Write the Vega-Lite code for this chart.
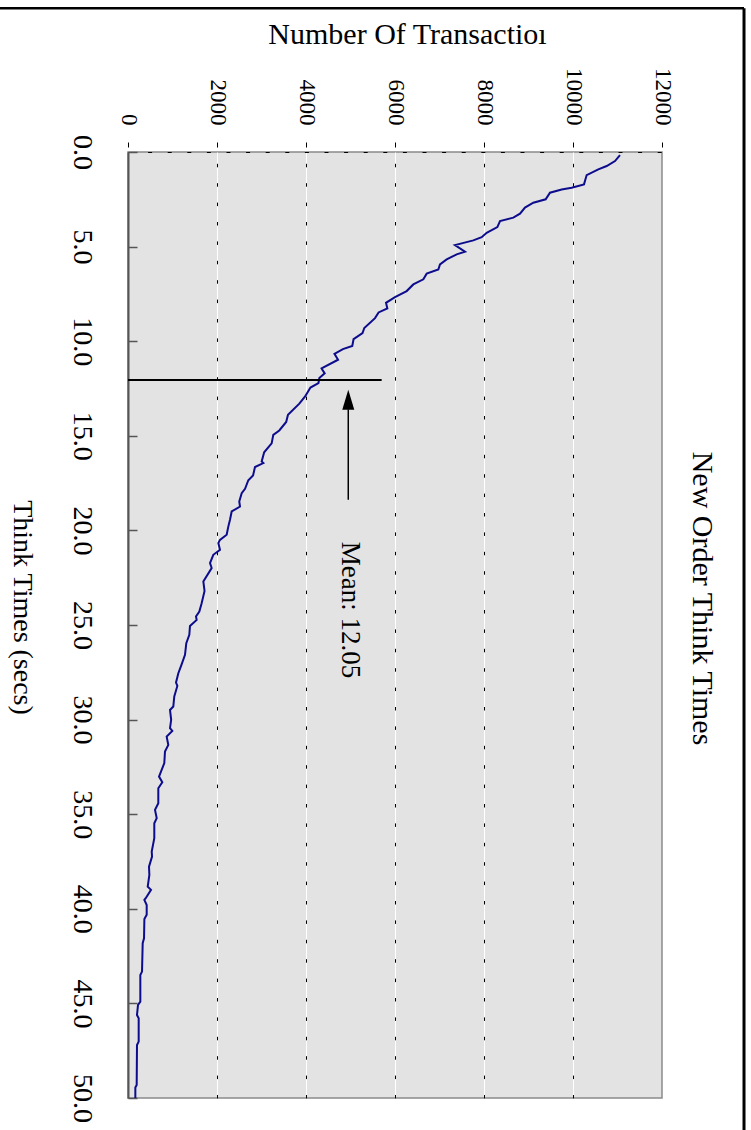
{
  "$schema": "https://vega.github.io/schema/vega-lite/v6.json",
  "width": 534,
  "height": 946,
  "autosize": {"type": "none"},
  "padding": {"left": 128, "top": 152, "right": 89, "bottom": 32},
  "background": "white",
  "config": {
    "font": "Liberation Serif",
    "view": {"fill": "#e3e3e3", "stroke": "#8a8a8a", "strokeWidth": 1.5}
  },
  "datasets": {
    "curve": [
      {"time": 0.16, "count": 11056}, {"time": 0.48, "count": 10944}, {"time": 0.74, "count": 10757},
      {"time": 0.92, "count": 10569}, {"time": 1.22, "count": 10307}, {"time": 1.71, "count": 10247},
      {"time": 1.89, "count": 9970}, {"time": 1.98, "count": 9745}, {"time": 2.15, "count": 9483},
      {"time": 2.5, "count": 9386}, {"time": 2.68, "count": 9108}, {"time": 2.94, "count": 8921},
      {"time": 3.26, "count": 8809}, {"time": 3.47, "count": 8659}, {"time": 3.65, "count": 8360},
      {"time": 3.97, "count": 8300}, {"time": 4.27, "count": 8060}, {"time": 4.5, "count": 7948},
      {"time": 4.67, "count": 7760}, {"time": 4.92, "count": 7348}, {"time": 5.27, "count": 7573},
      {"time": 5.41, "count": 7386}, {"time": 5.68, "count": 7161}, {"time": 5.94, "count": 7011},
      {"time": 6.21, "count": 6974}, {"time": 6.43, "count": 6712}, {"time": 6.73, "count": 6637},
      {"time": 7.0, "count": 6412}, {"time": 7.35, "count": 6262}, {"time": 7.67, "count": 6000},
      {"time": 7.97, "count": 5798}, {"time": 8.27, "count": 5828}, {"time": 8.48, "count": 5631},
      {"time": 8.78, "count": 5551}, {"time": 9.3, "count": 5310}, {"time": 9.57, "count": 5270},
      {"time": 9.89, "count": 5069}, {"time": 10.25, "count": 5040}, {"time": 10.42, "count": 4829},
      {"time": 10.67, "count": 4640}, {"time": 10.98, "count": 4720}, {"time": 11.44, "count": 4350},
      {"time": 11.7, "count": 4420}, {"time": 11.95, "count": 4300}, {"time": 12.21, "count": 4280},
      {"time": 12.45, "count": 4100}, {"time": 12.92, "count": 3980}, {"time": 13.3, "count": 3850},
      {"time": 13.89, "count": 3595}, {"time": 14.27, "count": 3555}, {"time": 14.72, "count": 3400},
      {"time": 14.95, "count": 3265}, {"time": 15.4, "count": 3228}, {"time": 15.87, "count": 3060},
      {"time": 16.36, "count": 3004}, {"time": 16.44, "count": 3041}, {"time": 16.65, "count": 2854},
      {"time": 17.1, "count": 2810}, {"time": 17.35, "count": 2704}, {"time": 17.8, "count": 2630},
      {"time": 18.03, "count": 2555}, {"time": 18.47, "count": 2500}, {"time": 18.74, "count": 2517},
      {"time": 19.0, "count": 2330}, {"time": 19.44, "count": 2292}, {"time": 19.8, "count": 2254},
      {"time": 20.23, "count": 2217}, {"time": 20.5, "count": 2067}, {"time": 20.67, "count": 2030},
      {"time": 21.03, "count": 2067}, {"time": 21.29, "count": 1917}, {"time": 21.73, "count": 1843},
      {"time": 21.99, "count": 1880}, {"time": 22.7, "count": 1693}, {"time": 23.2, "count": 1720},
      {"time": 23.85, "count": 1655}, {"time": 24.29, "count": 1603}, {"time": 24.55, "count": 1528},
      {"time": 24.73, "count": 1543}, {"time": 25.05, "count": 1393}, {"time": 25.52, "count": 1378},
      {"time": 25.96, "count": 1310}, {"time": 26.58, "count": 1281}, {"time": 27.15, "count": 1195},
      {"time": 27.55, "count": 1131}, {"time": 28.04, "count": 1079}, {"time": 28.22, "count": 1109},
      {"time": 28.78, "count": 1040}, {"time": 29.31, "count": 1018}, {"time": 29.49, "count": 944},
      {"time": 30.01, "count": 970}, {"time": 30.45, "count": 944}, {"time": 30.6, "count": 996},
      {"time": 30.9, "count": 869}, {"time": 31.34, "count": 906}, {"time": 31.69, "count": 831},
      {"time": 32.3, "count": 816}, {"time": 33.01, "count": 697}, {"time": 33.31, "count": 771},
      {"time": 33.63, "count": 681}, {"time": 34.42, "count": 681}, {"time": 34.77, "count": 607},
      {"time": 35.21, "count": 645}, {"time": 35.48, "count": 591}, {"time": 36.27, "count": 591},
      {"time": 36.98, "count": 533}, {"time": 37.24, "count": 540}, {"time": 37.77, "count": 472},
      {"time": 38.21, "count": 480}, {"time": 38.83, "count": 443}, {"time": 39.0, "count": 517},
      {"time": 39.44, "count": 398}, {"time": 39.53, "count": 368}, {"time": 39.8, "count": 420},
      {"time": 40.32, "count": 420}, {"time": 40.54, "count": 368}, {"time": 41.56, "count": 360},
      {"time": 41.82, "count": 330}, {"time": 43.32, "count": 315}, {"time": 43.5, "count": 277},
      {"time": 44.91, "count": 277}, {"time": 45.08, "count": 225}, {"time": 45.61, "count": 202},
      {"time": 45.79, "count": 240}, {"time": 47.02, "count": 240}, {"time": 47.2, "count": 202},
      {"time": 49.31, "count": 195}, {"time": 49.45, "count": 165}, {"time": 50.0, "count": 165}
    ]
  },
  "layer": [
    {
      "data": {"name": "curve"},
      "mark": {"type": "line", "color": "#0c0c8c", "strokeWidth": 2},
      "encoding": {
        "x": {
          "field": "count",
          "type": "quantitative",
          "scale": {"domain": [0, 12000], "nice": false, "zero": false},
          "axis": {
            "orient": "top",
            "values": [0, 2000, 4000, 6000, 8000, 10000, 12000],
            "format": "d",
            "labelAngle": 90,
            "labelAlign": "right",
            "labelBaseline": "middle",
            "labelPadding": 17,
            "labelFlush": false,
            "labelOverlap": false,
            "labelFont": "Liberation Serif",
            "labelFontSize": 23,
            "labelColor": "black",
            "tickSize": 10,
            "tickDash": [5, 5],
            "tickDashOffset": 5,
            "tickColor": "black",
            "tickWidth": 1,
            "domain": true,
            "domainColor": "black",
            "domainWidth": 1,
            "domainDash": [4, 15.6],
            "grid": true,
            "gridColor": {"condition": {"test": "datum.value === 0 || datum.value === 12000", "value": "transparent"}, "value": "white"},
            "gridWidth": 1,
            "gridOpacity": 1,
            "title": "Number Of Transactioı",
            "titleFont": "Liberation Serif",
            "titleFontSize": 30,
            "titleFontWeight": "normal",
            "titleColor": "black",
            "titleAlign": "center",
            "titleBaseline": "alphabetic",
            "titleAngle": 0,
            "titleX": 279,
            "titleY": -109
          }
        },
        "y": {
          "field": "time",
          "type": "quantitative",
          "scale": {"domain": [0, 50], "nice": false, "zero": false, "reverse": true},
          "axis": {
            "orient": "left",
            "values": [0, 5, 10, 15, 20, 25, 30, 35, 40, 45, 50],
            "format": ".1f",
            "labelAngle": 90,
            "labelAlign": "center",
            "labelBaseline": "middle",
            "labelPadding": 56,
            "labelFlush": false,
            "labelOverlap": false,
            "labelFont": "Liberation Serif",
            "labelFontSize": 28,
            "labelColor": "black",
            "tickSize": -9,
            "tickColor": "#555555",
            "tickWidth": 1.5,
            "domain": true,
            "domainColor": "#555555",
            "domainWidth": 2,
            "grid": false,
            "title": "Think Times (secs)",
            "titleFont": "Liberation Serif",
            "titleFontSize": 28,
            "titleFontWeight": "normal",
            "titleColor": "black",
            "titleAngle": 90,
            "titleAlign": "center",
            "titleBaseline": "middle",
            "titleX": -107,
            "titleY": 455
          }
        },
        "order": {"field": "time", "type": "quantitative"}
      }
    },
    {
      "data": {"values": [{}]},
      "mark": {"type": "rule", "color": "black", "strokeWidth": 2},
      "encoding": {
        "x": {
          "datum": 0,
          "type": "quantitative",
          "axis": {
            "orient": "bottom",
            "values": [2000, 4000, 6000, 8000, 10000],
            "labels": false,
            "ticks": false,
            "domain": false,
            "title": null,
            "grid": true,
            "gridColor": "black",
            "gridOpacity": 1,
            "gridWidth": 1,
            "gridDash": [3.5, 15.9]
          }
        },
        "x2": {"datum": 5700},
        "y": {"datum": 12.05, "type": "quantitative", "axis": null}
      }
    },
    {
      "data": {"values": [{}]},
      "mark": {"type": "rule", "color": "black", "strokeWidth": 1.5},
      "encoding": {
        "x": {"datum": 4950, "type": "quantitative", "axis": null},
        "y": {"datum": 13.6, "type": "quantitative", "axis": null},
        "y2": {"datum": 18.38}
      }
    },
    {
      "data": {"values": [{}]},
      "mark": {"type": "point", "shape": "M0,-1L0.6,1L-0.6,1Z", "size": 400, "filled": true, "color": "black", "opacity": 1},
      "encoding": {
        "x": {"datum": 4950, "type": "quantitative", "axis": null},
        "y": {"datum": 13.1, "type": "quantitative", "axis": null}
      }
    },
    {
      "data": {"values": [{}]},
      "mark": {"type": "text", "text": "Mean: 12.05", "angle": 90, "align": "left", "baseline": "middle", "font": "Liberation Serif", "fontSize": 27, "color": "black"},
      "encoding": {
        "x": {"datum": 4989, "type": "quantitative", "axis": null},
        "y": {"datum": 20.6, "type": "quantitative", "axis": null}
      }
    },
    {
      "data": {"values": [{}]},
      "mark": {"type": "text", "text": "New Order Think Times", "angle": 90, "align": "center", "baseline": "alphabetic", "font": "Liberation Serif", "fontSize": 30, "color": "black"},
      "encoding": {
        "x": {"datum": 12697, "type": "quantitative", "axis": null},
        "y": {"datum": 23.6, "type": "quantitative", "axis": null}
      }
    },
    {
      "data": {"values": [{}]},
      "mark": {"type": "rule", "color": "black", "strokeWidth": 2.5},
      "encoding": {
        "x": {"datum": -2900, "type": "quantitative", "axis": null},
        "x2": {"datum": 13843},
        "y": {"datum": -7.6, "type": "quantitative", "axis": null}
      }
    },
    {
      "data": {"values": [{}]},
      "mark": {"type": "rule", "color": "black", "strokeWidth": 3},
      "encoding": {
        "x": {"datum": 13843, "type": "quantitative", "axis": null},
        "y": {"datum": -7.6, "type": "quantitative", "axis": null},
        "y2": {"datum": 52}
      }
    }
  ],
  "resolve": {"axis": {"x": "independent", "y": "independent"}}
}
